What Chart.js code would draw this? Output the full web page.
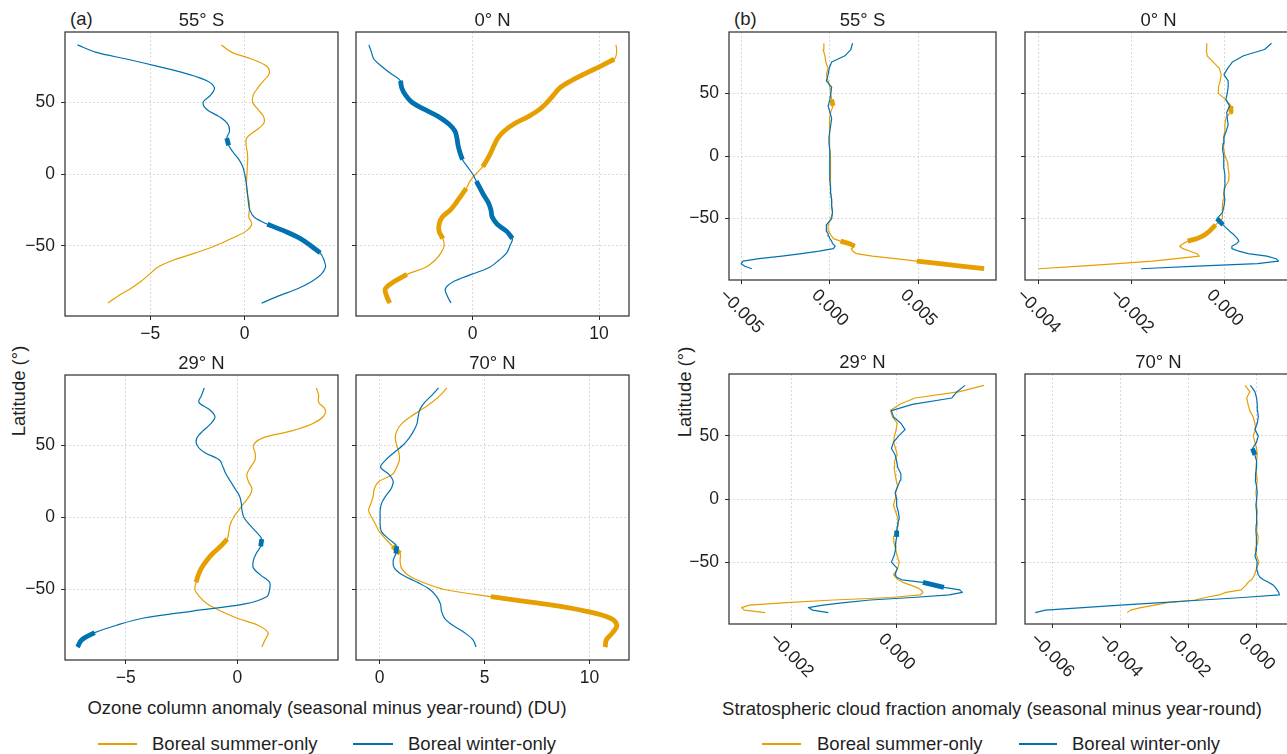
<!DOCTYPE html>
<html>
<head>
<meta charset="utf-8">
<title>Seasonal anomaly profiles</title>
<script src="https://cdn.jsdelivr.net/npm/chart.js@4.4.1/dist/chart.umd.min.js"></script>
<style>
html,body{margin:0;padding:0;background:#fff;overflow:hidden;}
#fig{position:relative;width:1300px;height:754px;overflow:hidden;font-family:"Liberation Sans",Arial,Helvetica,sans-serif;color:#1f1f1f;}
#fig canvas{position:absolute;}
.lbl{position:absolute;font-size:18.5px;line-height:20px;white-space:nowrap;}
.legline{position:absolute;height:2px;}
</style>
</head>
<body>
<div id="fig">
  <div class="lbl" style="left:70px;top:9px">(a)</div>
  <div class="lbl" style="left:734px;top:9px">(b)</div>
  <div class="lbl" style="left:19px;top:391px;transform:translate(-50%,-50%) rotate(-90deg)">Latitude (°)</div>
  <div class="lbl" style="left:685px;top:392px;transform:translate(-50%,-50%) rotate(-90deg)">Latitude (°)</div>
  <div class="lbl" style="left:327px;top:698px;transform:translateX(-50%)">Ozone column anomaly (seasonal minus year-round) (DU)</div>
  <div class="lbl" style="left:992px;top:699px;transform:translateX(-50%)">Stratospheric cloud fraction anomaly (seasonal minus year-round)</div>
</div>
<script>
// ---------------- DATA ----------------
const LAT_OZ = [-90,-85,-80,-75,-70,-65,-60,-55,-50,-45,-40,-35,-30,-25,-20,-15,-10,-5,0,5,10,15,20,25,30,35,40,45,50,55,60,65,70,75,80,85,90];
const LAT_CL = [-90,-88,-86,-84,-82,-80,-78,-76,-74,-72,-70,-68,-66,-64,-62,-60,-55,-50,-45,-40,-35,-30,-25,-20,-15,-10,-5,0,5,10,15,20,25,30,35,40,45,50,55,60,65,70,75,80,85,90];
const SERIES = ['Boreal summer-only', 'Boreal winter-only'];
const SITES = ['55° S', '0° N', '29° N', '70° N'];
const LAT_TICKS = [-50, 0, 50];

// Ozone column anomaly (DU), values at LAT_OZ
const OZ_55S_SUMMER = [-7.24,-6.7,-6.05,-5.5,-5.05,-4.6,-3.76,-2.6,-1.55,-0.7,0.05,0.38,0.22,0.25,0.25,0.16,0.1,0.1,0.12,0.14,0.16,0.14,0.08,0.1,0.55,1.0,1.0,0.7,0.42,0.45,0.7,1.0,1.3,1.18,0.4,-0.7,-1.24];
const OZ_55S_WINTER = [0.9,1.8,2.8,3.55,4.05,4.28,4.2,4.0,3.5,2.95,2.15,1.2,0.5,0.27,0.2,0.16,0.12,0.07,0.0,-0.1,-0.3,-0.6,-0.85,-0.95,-0.8,-0.9,-1.35,-2.0,-2.2,-1.8,-1.6,-2.0,-3.1,-4.6,-6.2,-7.9,-8.85];
const OZ_0N_SUMMER = [-6.55,-6.8,-6.9,-6.2,-5.2,-3.7,-2.95,-2.5,-2.25,-2.35,-2.65,-2.65,-2.4,-1.75,-1.3,-0.9,-0.5,-0.2,0.25,0.8,1.15,1.45,1.7,2.0,2.5,3.3,4.4,5.3,5.9,6.4,6.9,7.8,8.9,10.1,11.2,11.4,11.34];
const OZ_0N_WINTER = [-1.7,-2.0,-2.15,-1.5,-0.1,1.35,2.1,2.7,2.95,3.15,2.7,1.95,1.55,1.45,1.25,0.9,0.6,0.3,0.0,-0.4,-0.8,-1.0,-1.15,-1.24,-1.4,-1.9,-2.7,-3.8,-4.8,-5.3,-5.6,-5.7,-6.47,-7.17,-7.8,-8.0,-8.2];
const OZ_29N_SUMMER = [1.1,1.25,1.38,0.95,0.0,-0.75,-1.35,-1.7,-1.9,-1.85,-1.75,-1.6,-1.38,-1.1,-0.75,-0.45,-0.38,-0.32,-0.17,0.06,0.3,0.55,0.66,0.5,0.43,0.6,0.8,0.8,0.72,1.1,2.4,3.35,3.85,3.95,3.65,3.65,3.55];
const OZ_29N_WINTER = [-7.17,-6.98,-6.4,-5.45,-4.25,-2.0,0.35,1.32,1.45,1.45,1.05,0.72,0.72,0.85,1.05,1.1,0.85,0.55,0.3,0.21,0.18,0.1,-0.1,-0.3,-0.5,-0.64,-0.8,-1.45,-1.8,-1.82,-1.55,-1.2,-1.0,-1.25,-1.72,-1.6,-1.48];
const OZ_70N_SUMMER = [10.75,10.8,11.1,11.3,11.0,9.8,7.8,5.3,3.1,2.05,1.35,1.04,0.98,0.98,0.62,0.3,0.0,-0.18,-0.37,-0.52,-0.4,-0.3,-0.25,-0.03,0.62,0.82,0.95,0.92,0.82,0.75,0.82,1.05,1.48,2.0,2.5,2.9,3.21];
const OZ_70N_WINTER = [4.6,4.45,4.05,3.5,3.1,2.95,2.9,2.72,2.4,1.8,1.1,0.7,0.65,0.78,0.82,0.45,0.1,0.03,0.03,0.03,0.1,0.3,0.55,0.65,0.45,0.05,0.3,0.68,1.1,1.4,1.62,1.78,1.84,1.92,2.15,2.5,2.81];

// Stratospheric cloud fraction anomaly, values at LAT_CL
const CL_55S_SUMMER = [0.0087,0.0074,0.0062,0.0049,0.0037,0.0024,0.0015,0.0013,0.0012,0.0014,0.0011,0.0006,0.0002,0.0001,0.0,-0.00005,-0.0001,0.00005,0.00015,0.0001,0.0001,0.00005,0.00004,0.00004,0.00004,0.00003,0.00004,0.00002,0.0,0.0,-0.00003,-0.00004,-0.00002,0.0,0.00005,0.00018,0.0001,0.00005,0.0,-0.0001,-0.0002,-0.0001,-0.00023,-0.00028,-0.00038,-0.00034];
const CL_55S_WINTER = [-0.0044,-0.0048,-0.005,-0.0049,-0.004,-0.0027,-0.0016,-0.0006,0.0002,0.0003,0.00015,0.0001,0.0,-0.00005,-0.0001,-0.0002,-0.0002,0.0001,0.00015,0.0001,0.0001,0.00005,0.00004,0.0,0.0,0.0,0.0,0.0,-0.00003,-0.00005,-0.00005,0.0,0.00005,0.0001,0.0,-0.0001,0.0,0.00005,0.0001,-0.0002,-0.0001,-0.00004,0.0001,0.00085,0.00118,0.00128];
const CL_0N_SUMMER = [-0.004,-0.0031,-0.0023,-0.00155,-0.00105,-0.00055,-0.0006,-0.00075,-0.0009,-0.00097,-0.0009,-0.0008,-0.0006,-0.00048,-0.0004,-0.00033,-0.0002,-0.00005,-0.00005,-0.00006,-0.00004,-0.00002,0.0,0.00008,0.00009,0.00007,0.00006,0.0,-0.00002,-0.00004,-0.00002,0.0,0.0,0.00002,0.00012,0.00013,0.00002,-0.00014,-0.00014,-0.0001,-0.00008,-0.00012,-0.00025,-0.00038,-0.0004,-0.00039];
const CL_0N_WINTER = [-0.0018,-0.0006,0.0007,0.00115,0.0011,0.0009,0.0005,0.0003,0.00015,0.00015,0.00025,0.0003,0.00027,0.00022,0.00017,0.0001,-0.00004,-0.00017,-0.00005,-0.00002,0.0,-0.00002,-0.00001,0.0,0.0,-0.00002,-0.00002,-0.00003,-0.00005,-0.00004,-0.00002,0.00003,0.00007,0.00005,0.00004,0.0001,0.00002,0.00005,0.00007,0.00007,-0.00002,0.00006,0.00016,0.0004,0.00085,0.001];
const CL_29N_SUMMER = [-0.0025,-0.0029,-0.00295,-0.0028,-0.0021,-0.0012,-0.0001,0.00045,0.0005,0.00047,0.00038,0.00025,0.00012,0.00003,-0.00002,-0.00006,0.00002,0.00005,0.00001,-0.00002,-0.00005,-0.00006,0.00001,0.00003,0.00002,-0.00002,-0.00006,-0.00003,-0.00002,0.00002,-0.00001,-0.00003,-0.00005,-0.00004,0.00001,-0.00002,-0.00006,-0.00004,-0.00001,0.00001,-0.00008,-0.00012,0.00006,0.00035,0.0012,0.00166];
const CL_29N_WINTER = [-0.0013,-0.0016,-0.00168,-0.0014,-0.001,-0.0005,0.0003,0.001,0.00125,0.0012,0.0009,0.0007,0.0005,0.0001,0.0,-0.00003,0.00001,-0.0001,-0.00005,-0.00002,-0.00002,0.0,0.0,0.00002,0.00005,0.00003,0.0,0.0,-0.00003,0.00002,0.00007,0.00008,0.00002,0.0,-0.00003,-0.0001,-0.00006,0.00004,0.00016,0.00008,-0.00006,-0.0001,0.0003,0.00105,0.00115,0.0013];
const CL_70N_SUMMER = [-0.0038,-0.0037,-0.0034,-0.003,-0.0026,-0.0018,-0.0015,-0.0011,-0.0009,-0.00045,-0.00038,-0.0003,-0.00025,-0.00015,-0.0001,-0.00006,0.0,0.00007,0.0,-0.00004,0.00003,0.00005,0.0,0.00002,0.0,0.00002,0.0,0.0,-0.00002,0.0,0.00002,0.0,-0.00002,0.0,0.00002,0.0,-0.00005,-0.0001,-0.00003,-0.00005,-0.0001,-0.0002,-0.00025,-0.00029,-0.0002,-0.00034];
const CL_70N_WINTER = [-0.0065,-0.0062,-0.0051,-0.004,-0.0028,-0.0016,-0.0004,0.00067,0.00065,0.0006,0.00055,0.00048,0.00035,0.0002,0.0001,0.00005,0.0,0.00002,-0.00005,0.0,0.0,-0.00001,-0.00002,-0.00001,0.0,0.0,-0.00002,0.0,0.00002,0.0,-0.00004,-0.00003,0.0,0.0,-0.00005,-0.00012,0.0,0.00005,-0.00005,0.00002,0.00005,0.00003,0.00002,0.0,-0.00005,-0.00018];

// Latitude ranges (from, to) where the anomaly is significant (drawn thick)
const SIG_OZ_55S_SUMMER = [];
const SIG_OZ_55S_WINTER = [[20,25],[-35,-55]];
const SIG_OZ_0N_SUMMER = [[5,80],[-10,-45],[-70,-90]];
const SIG_OZ_0N_WINTER = [[10,65],[-5,-45]];
const SIG_OZ_29N_SUMMER = [[-15,-45]];
const SIG_OZ_29N_WINTER = [[-15,-20],[-80,-90]];
const SIG_OZ_70N_SUMMER = [[-20,-25],[-55,-90]];
const SIG_OZ_70N_WINTER = [[-20,-25]];
const SIG_CL_55S_SUMMER = [[40,45],[-68,-72],[-84,-90]];
const SIG_CL_55S_WINTER = [];
const SIG_CL_0N_SUMMER = [[35,40],[-55,-68]];
const SIG_CL_0N_WINTER = [[-50,-55]];
const SIG_CL_29N_SUMMER = [];
const SIG_CL_29N_WINTER = [[-25,-30],[-66,-70]];
const SIG_CL_70N_SUMMER = [];
const SIG_CL_70N_WINTER = [[35,40]];

// x tick values
const XT_OZ_55S = [-5, 0];
const XT_OZ_0N = [0, 10];
const XT_OZ_29N = [-5, 0];
const XT_OZ_70N = [0, 5, 10];
const XT_CL_55S = [-0.005, 0, 0.005];
const XT_CL_0N = [-0.004, -0.002, 0];
const XT_CL_29N = [-0.002, 0];
const XT_CL_70N = [-0.006, -0.004, -0.002, 0];

// ---------------- LAYOUT / STYLE ----------------
const COL_SUMMER = '#E69F00';
const COL_WINTER = '#0072B2';
const FONT = '"Liberation Sans", Arial, Helvetica, sans-serif';
const TICK_SIZE = 17.5;

const panels = [
  {site:0, lat:LAT_OZ, s:OZ_55S_SUMMER, w:OZ_55S_WINTER, ss:SIG_OZ_55S_SUMMER, sw:SIG_OZ_55S_WINTER, xt:XT_OZ_55S, xr:[-9.51,4.94], box:[65,32,273,284], ylab:true, cloud:false},
  {site:1, lat:LAT_OZ, s:OZ_0N_SUMMER, w:OZ_0N_WINTER, ss:SIG_OZ_0N_SUMMER, sw:SIG_OZ_0N_WINTER, xt:XT_OZ_0N, xr:[-9.22,12.37], box:[356,32,273,284], ylab:false, cloud:false},
  {site:2, lat:LAT_OZ, s:OZ_29N_SUMMER, w:OZ_29N_WINTER, ss:SIG_OZ_29N_SUMMER, sw:SIG_OZ_29N_WINTER, xt:XT_OZ_29N, xr:[-7.73,4.52], box:[65,375,273,285], ylab:true, cloud:false},
  {site:3, lat:LAT_OZ, s:OZ_70N_SUMMER, w:OZ_70N_WINTER, ss:SIG_OZ_70N_SUMMER, sw:SIG_OZ_70N_WINTER, xt:XT_OZ_70N, xr:[-1.12,11.88], box:[356,375,273,285], ylab:false, cloud:false},
  {site:0, lat:LAT_CL, s:CL_55S_SUMMER, w:CL_55S_WINTER, ss:SIG_CL_55S_SUMMER, sw:SIG_CL_55S_WINTER, xt:XT_CL_55S, xr:[-0.00569,0.00937], box:[729,32,267,248], ylab:true, cloud:true},
  {site:1, lat:LAT_CL, s:CL_0N_SUMMER, w:CL_0N_WINTER, ss:SIG_CL_0N_SUMMER, sw:SIG_CL_0N_WINTER, xt:XT_CL_0N, xr:[-0.00429,0.00144], box:[1025,32,267,248], ylab:false, cloud:true},
  {site:2, lat:LAT_CL, s:CL_29N_SUMMER, w:CL_29N_WINTER, ss:SIG_CL_29N_SUMMER, sw:SIG_CL_29N_WINTER, xt:XT_CL_29N, xr:[-0.00319,0.00189], box:[729,374,267,250], ylab:true, cloud:true},
  {site:3, lat:LAT_CL, s:CL_70N_SUMMER, w:CL_70N_WINTER, ss:SIG_CL_70N_SUMMER, sw:SIG_CL_70N_WINTER, xt:XT_CL_70N, xr:[-0.0068,0.00104], box:[1025,374,267,250], ylab:false, cloud:true}
];

const legends = [
  {x:98, y:744, len:39, textX:152},
  {x:353, y:744, len:40, textX:408},
  {x:762, y:744, len:39, textX:817},
  {x:1019, y:744, len:38, textX:1072}
];

const fig = document.getElementById('fig');

function minus(s){ return s.replace('-', '\u2212'); }
function fmtOz(v){ return minus(String(Math.round(v))); }
function fmtCl(v){ return (v < 0 ? '\u2212' : '') + Math.abs(v).toFixed(3); }

function addText(txt, left, top, extra){
  const d = document.createElement('div');
  d.className = 'lbl';
  d.textContent = txt;
  d.style.left = left + 'px';
  d.style.top = top + 'px';
  if (extra) d.style.transform = extra;
  fig.appendChild(d);
}

// legends
legends.forEach((L, i) => {
  const k = i % 2;
  const ln = document.createElement('div');
  ln.className = 'legline';
  ln.style.left = L.x + 'px';
  ln.style.top = (L.y - 1) + 'px';
  ln.style.width = L.len + 'px';
  ln.style.background = k === 0 ? COL_SUMMER : COL_WINTER;
  fig.appendChild(ln);
  addText(SERIES[k], L.textX, L.y - 10);
});

const framePlugin = {
  id: 'frame',
  afterDatasetsDraw(chart){
    const a = chart.chartArea, ctx = chart.ctx;
    ctx.save();
    ctx.strokeStyle = '#2b2b2b';
    ctx.lineWidth = 1.2;
    ctx.strokeRect(a.left, a.top, a.right - a.left, a.bottom - a.top);
    ctx.restore();
  }
};

const rotLabelPlugin = {
  id: 'rotlabels',
  afterDraw(chart, args, opts){
    if (!opts || !opts.on) return;
    const xs = chart.scales.x, ctx = chart.ctx;
    ctx.save();
    ctx.font = TICK_SIZE + 'px ' + FONT;
    ctx.fillStyle = '#1f1f1f';
    xs.ticks.forEach(t => {
      const x = xs.getPixelForValue(t.value);
      const s = fmtCl(t.value);
      const w = ctx.measureText(s).width;
      const ext = (w + 13) / Math.SQRT2;
      ctx.save();
      ctx.translate(x, chart.chartArea.bottom + 8 + ext / 2);
      ctx.rotate(Math.PI / 4);
      ctx.textAlign = 'center';
      ctx.textBaseline = 'middle';
      ctx.fillText(s, 0, 0);
      ctx.restore();
    });
    ctx.restore();
  }
};

function makePanel(p){
  const padL = 60, padT = 3, padR = 3, padB = p.cloud ? 80 : 40;
  const [bx, by, bw, bh] = p.box;
  const W = bw + padL + padR, H = bh + padT + padB;
  const cv = document.createElement('canvas');
  cv.width = W; cv.height = H;
  cv.style.left = (bx - padL) + 'px';
  cv.style.top = (by - padT) + 'px';
  cv.style.width = W + 'px';
  cv.style.height = H + 'px';
  fig.appendChild(cv);

  addText(SITES[p.site], bx + bw / 2, by - 22, 'translateX(-50%)');

  const pts = vals => p.lat.map((y, i) => ({x: vals[i], y: y}));
  const seg = (vals, r) => {
    const lo = Math.min(r[0], r[1]), hi = Math.max(r[0], r[1]);
    return pts(vals).filter(d => d.y >= lo && d.y <= hi);
  };
  const tension = p.cloud ? 0 : 0.35;
  const ds = [];
  const mk = (data, color, width, order) => ({
    data, showLine: true, borderColor: color, backgroundColor: color,
    borderWidth: width, pointRadius: 0, pointHoverRadius: 0, tension,
    fill: false, order, borderJoinStyle: 'round', borderCapStyle: 'butt'
  });
  ds.push(mk(pts(p.s), COL_SUMMER, 1.2, 3));
  p.ss.forEach(r => ds.push(mk(seg(p.s, r), COL_SUMMER, 4.8, 2)));
  ds.push(mk(pts(p.w), COL_WINTER, 1.2, 1));
  p.sw.forEach(r => ds.push(mk(seg(p.w, r), COL_WINTER, 4.8, 0)));

  const gridCommon = {
    color: '#d0d0d0', lineWidth: 0.8, drawTicks: true, tickLength: 4,
    tickColor: '#2b2b2b', tickWidth: 1, tickBorderDash: []
  };

  new Chart(cv.getContext('2d'), {
    type: 'scatter',
    data: {datasets: ds},
    plugins: [framePlugin, rotLabelPlugin],
    options: {
      responsive: false, animation: false, devicePixelRatio: 1, events: [],
      layout: {padding: {top: padT, right: padR, left: 0, bottom: 0}},
      plugins: {legend: {display: false}, tooltip: {enabled: false}, rotlabels: {on: p.cloud}},
      scales: {
        x: {
          type: 'linear', position: 'bottom', min: p.xr[0], max: p.xr[1],
          afterBuildTicks: s => { s.ticks = p.xt.map(v => ({value: v})); },
          afterFit: s => { s.height = padB; s.paddingLeft = 0; s.paddingRight = 0; },
          grid: gridCommon,
          border: {display: false, dash: [2, 2]},
          ticks: {display: !p.cloud, padding: 4, maxRotation: 0, minRotation: 0, color: '#1f1f1f',
                  font: {family: FONT, size: TICK_SIZE}, callback: v => p.cloud ? fmtCl(v) : fmtOz(v)}
        },
        y: {
          type: 'linear', position: 'left', min: -99, max: 99,
          afterBuildTicks: s => { s.ticks = LAT_TICKS.map(v => ({value: v})); },
          afterFit: s => { s.width = padL; s.paddingTop = 0; s.paddingBottom = 0; },
          grid: gridCommon,
          border: {display: false, dash: [2, 2]},
          ticks: {display: p.ylab, padding: 6, color: '#1f1f1f',
                  font: {family: FONT, size: TICK_SIZE}, callback: v => fmtOz(v)}
        }
      }
    }
  });
}

panels.forEach(makePanel);
</script>
</body>
</html>
